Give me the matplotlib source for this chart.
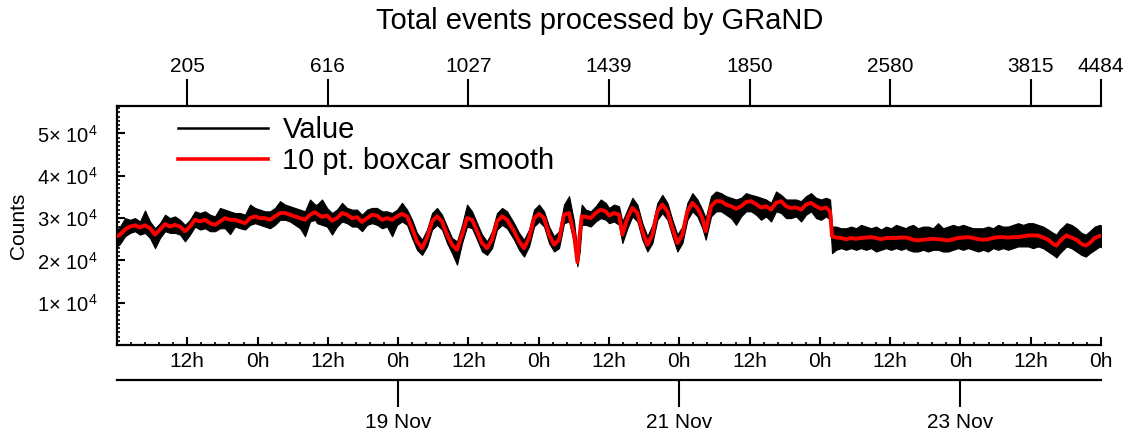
import numpy as np
import matplotlib
matplotlib.use("Agg")
import matplotlib.pyplot as plt
from matplotlib.lines import Line2D
from matplotlib.ticker import FixedLocator, MultipleLocator, NullLocator

plt.rcParams['font.family'] = ['Liberation Sans', 'DejaVu Sans']
plt.rcParams['mathtext.fontset'] = 'custom'
plt.rcParams['mathtext.rm'] = 'Liberation Sans'
plt.rcParams['mathtext.it'] = 'Liberation Sans:italic'
plt.rcParams['mathtext.bf'] = 'Liberation Sans:bold'

# ---------------- data (time in hours since 17 Nov 00:00, counts in units of 1e4) -------------
hours = [
    0.0, 0.51, 1.37, 2.22, 3.07, 3.93, 4.78, 5.63, 6.49, 7.34, 8.20, 9.05, 9.90, 10.76, 11.61,
    12.46, 13.32, 14.17, 15.03, 15.88, 16.73, 17.59, 18.44, 19.29, 20.15, 21.00, 21.86, 22.71,
    23.56, 24.42, 25.27, 26.12, 26.98, 27.83, 28.69, 29.54, 30.39, 31.25, 32.10, 32.95, 33.81,
    34.15, 35.00, 35.86, 36.71, 37.56, 38.42, 39.27, 40.13, 40.98, 41.83, 42.69, 43.54, 44.39,
    45.25, 46.10, 46.96, 47.81, 48.66, 49.52, 50.37, 51.22, 52.08, 52.93, 53.79, 54.64, 55.49,
    56.35, 57.20, 58.05, 58.91, 59.76, 60.62, 61.47, 62.32, 63.18, 64.03, 64.88, 65.74, 66.59,
    67.79, 68.64, 69.49, 70.35, 71.20, 72.06, 72.91, 73.76, 74.62, 75.47, 76.32, 77.18, 78.03,
    78.60, 79.00, 79.34, 80.03, 80.88, 81.73, 82.59, 83.44, 84.01, 84.86, 85.71, 86.28, 87.14,
    87.99, 88.84, 89.70, 90.55, 91.41, 92.26, 93.11, 93.97, 94.82, 95.67, 96.53, 97.38, 98.24,
    99.09, 99.94, 100.51,
    101.42, 102.28, 103.13, 103.98, 104.84, 105.69, 106.55, 107.40, 108.25, 109.11, 109.96,
    110.81, 111.67, 112.52, 113.38, 114.23, 115.08, 115.94, 116.79, 117.64, 118.50, 119.35,
    120.21, 121.06, 121.74, 122.08, 122.77, 123.62, 124.47, 125.33, 126.18, 127.03, 127.89,
    128.74, 129.60, 130.45, 131.30, 132.16, 133.01, 133.86, 134.72,
    135.06, 135.91, 136.76, 137.62, 138.47, 139.33, 140.18, 141.03, 141.89, 142.74, 143.60,
    144.45, 145.30, 146.16, 147.01, 147.87, 148.72, 149.57, 150.43, 151.28, 152.13, 152.99,
    153.84, 154.70, 155.55, 156.40, 157.26, 158.11, 158.96, 159.82, 160.39, 160.96, 161.53,
    162.10, 162.95, 163.81, 164.66, 165.40, 166.08, 166.94, 167.79, 168.36,
]

smooth_e4 = [
    2.57, 2.61, 2.73, 2.80, 2.83, 2.78, 2.83, 2.76, 2.61, 2.73, 2.86, 2.80, 2.84, 2.80, 2.69,
    2.80, 2.96, 2.92, 2.96, 2.88, 2.84, 2.92, 3.00, 2.96, 2.96, 2.92, 2.88, 3.00, 3.04, 3.00,
    3.00, 2.96, 3.04, 3.12, 3.12, 3.08, 3.04, 3.00, 2.96, 3.08, 3.14,
    3.10, 3.03, 3.06, 2.94, 3.00, 3.12, 3.08, 3.00, 3.02, 2.91, 3.00, 3.08, 3.06, 2.96, 3.00,
    2.96, 3.04, 3.10, 3.04, 2.76, 2.45, 2.29, 2.53, 2.92, 3.04, 2.92, 2.61, 2.37, 2.25, 2.61,
    3.00, 2.96, 2.69, 2.41, 2.29, 2.49, 2.92, 3.04, 2.96,
    2.69, 2.45, 2.29, 2.53, 3.00, 3.10, 3.00, 2.61, 2.37, 2.49, 3.08, 3.12, 2.61, 1.96, 2.61,
    3.04, 3.03, 3.00, 3.12, 3.20, 3.16, 3.06, 3.12, 3.08, 2.61, 3.00, 3.24, 3.12, 2.69, 2.37,
    2.61, 3.16, 3.32, 3.16, 2.76, 2.41, 2.61, 3.16, 3.36, 3.24, 3.00, 2.69,
    3.28, 3.40, 3.40, 3.32, 3.28, 3.22, 3.28, 3.38, 3.40, 3.33, 3.25, 3.28, 3.20, 3.36, 3.40,
    3.28, 3.24, 3.25, 3.20, 3.32, 3.36, 3.28, 3.22, 3.25, 3.16, 2.57, 2.54, 2.53, 2.50, 2.53,
    2.51, 2.53, 2.54, 2.55, 2.53, 2.50, 2.53, 2.53, 2.53, 2.54, 2.54,
    2.53, 2.49, 2.47, 2.49, 2.50, 2.51, 2.50, 2.49, 2.47, 2.50, 2.53, 2.54, 2.55, 2.53, 2.50,
    2.49, 2.50, 2.53, 2.55, 2.55, 2.54, 2.55, 2.55, 2.57, 2.59, 2.59, 2.59, 2.54, 2.49, 2.39,
    2.35, 2.45, 2.53, 2.59, 2.54, 2.49, 2.39, 2.35, 2.41, 2.53, 2.58, 2.57,
]

upper_e4 = [
    2.72, 2.80, 3.00, 2.96, 3.00, 2.92, 3.18, 2.92, 2.76, 2.88, 3.08, 3.00, 3.04, 2.96, 2.84,
    2.96, 3.16, 3.12, 3.16, 3.08, 3.04, 3.24, 3.20, 3.16, 3.12, 3.12, 3.08, 3.32, 3.24, 3.20,
    3.16, 3.16, 3.24, 3.40, 3.32, 3.28, 3.24, 3.20, 3.16, 3.44, 3.32,
    3.32, 3.44, 3.24, 3.12, 3.20, 3.36, 3.24, 3.20, 3.20, 3.08, 3.20, 3.24, 3.24, 3.16, 3.16,
    3.12, 3.20, 3.36, 3.20, 2.96, 2.65, 2.49, 2.73, 3.12, 3.24, 3.08, 2.80, 2.53, 2.45, 2.84,
    3.32, 3.16, 2.88, 2.61, 2.45, 2.69, 3.12, 3.24, 3.16,
    2.88, 2.65, 2.49, 2.73, 3.20, 3.32, 3.16, 2.80, 2.57, 2.69, 3.32, 3.52, 2.92, 2.21, 2.92,
    3.32, 3.20, 3.16, 3.28, 3.44, 3.36, 3.24, 3.32, 3.28, 2.92, 3.20, 3.48, 3.32, 2.88, 2.57,
    2.84, 3.36, 3.55, 3.36, 2.96, 2.61, 2.80, 3.36, 3.59, 3.44, 3.20, 3.00,
    3.52, 3.63, 3.59, 3.52, 3.48, 3.44, 3.48, 3.59, 3.55, 3.52, 3.48, 3.44, 3.36, 3.63, 3.55,
    3.44, 3.44, 3.44, 3.40, 3.52, 3.59, 3.48, 3.44, 3.48, 3.44, 2.80, 2.80, 2.76, 2.76, 2.80,
    2.76, 2.84, 2.80, 2.76, 2.80, 2.73, 2.80, 2.76, 2.84, 2.80, 2.76,
    2.80, 2.84, 2.76, 2.80, 2.80, 2.76, 2.88, 2.76, 2.80, 2.84, 2.80, 2.84, 2.80, 2.76, 2.76,
    2.76, 2.80, 2.76, 2.84, 2.80, 2.80, 2.84, 2.88, 2.84, 2.88, 2.88, 2.84, 2.80, 2.73, 2.65,
    2.61, 2.73, 2.80, 2.88, 2.84, 2.76, 2.65, 2.61, 2.69, 2.80, 2.84, 2.80,
]

lower_e4 = [
    2.33, 2.39, 2.57, 2.65, 2.69, 2.61, 2.65, 2.53, 2.29, 2.53, 2.69, 2.65, 2.65, 2.61, 2.45,
    2.61, 2.80, 2.73, 2.76, 2.69, 2.69, 2.76, 2.76, 2.62, 2.80, 2.76, 2.73, 2.84, 2.88, 2.84,
    2.80, 2.76, 2.84, 2.96, 2.96, 2.92, 2.84, 2.76, 2.57, 2.92, 2.96,
    2.88, 2.84, 2.80, 2.61, 2.80, 2.92, 2.88, 2.80, 2.80, 2.69, 2.84, 2.88, 2.84, 2.76, 2.80,
    2.57, 2.84, 2.92, 2.84, 2.53, 2.25, 2.13, 2.33, 2.73, 2.84, 2.73, 2.41, 2.17, 1.90, 2.41,
    2.80, 2.76, 2.49, 2.21, 2.13, 2.29, 2.73, 2.84, 2.76,
    2.49, 2.25, 2.09, 2.33, 2.80, 2.92, 2.80, 2.41, 2.21, 2.29, 2.88, 2.92, 2.41, 1.86, 2.21,
    2.84, 2.84, 2.80, 2.92, 3.00, 2.96, 2.88, 2.92, 2.84, 2.41, 2.76, 3.04, 2.92, 2.49, 2.21,
    2.41, 2.96, 3.12, 2.96, 2.57, 2.21, 2.41, 2.96, 3.16, 3.04, 2.76, 2.49,
    3.04, 3.16, 3.16, 3.08, 3.00, 2.84, 3.04, 3.16, 3.16, 3.08, 2.96, 3.04, 2.92, 3.16, 3.12,
    3.00, 3.00, 3.04, 2.92, 3.08, 3.16, 3.00, 2.96, 3.04, 2.96, 2.17, 2.25, 2.29, 2.25, 2.29,
    2.25, 2.29, 2.25, 2.29, 2.21, 2.25, 2.29, 2.25, 2.29, 2.25, 2.29,
    2.25, 2.21, 2.21, 2.25, 2.21, 2.25, 2.25, 2.21, 2.21, 2.25, 2.29, 2.25, 2.29, 2.25, 2.21,
    2.25, 2.21, 2.29, 2.25, 2.29, 2.25, 2.29, 2.33, 2.33, 2.33, 2.29, 2.33, 2.29, 2.21, 2.13,
    2.07, 2.17, 2.25, 2.33, 2.29, 2.21, 2.13, 2.09, 2.17, 2.25, 2.33, 2.29,
]

time_tick_hours = [12, 24, 36, 48, 60, 72, 84, 96, 108, 120, 132, 144, 156, 168]
time_tick_labels = ['12h', '0h'] * 7
day_tick_hours = [48, 96, 144]
day_tick_labels = ['19 Nov', '21 Nov', '23 Nov']
event_tick_hours = [12, 36, 60, 84, 108, 132, 156, 168]
event_tick_labels = ['205', '616', '1027', '1439', '1850', '2580', '3815', '4484']
y_tick_values = [1e4, 2e4, 3e4, 4e4, 5e4]
y_tick_labels = [r'$1{\times}\ 10^{4}$', r'$2{\times}\ 10^{4}$', r'$3{\times}\ 10^{4}$',
                 r'$4{\times}\ 10^{4}$', r'$5{\times}\ 10^{4}$']

title = 'Total events processed by GRaND'
legend_labels = ['Value', '10 pt. boxcar smooth']

# ---------------- figure ----------------
W, H = 1137, 441
fig = plt.figure(figsize=(W / 100, H / 100), dpi=100)
ax_l, ax_r, ax_t, ax_b = 117, 1101, 106, 345
ax = fig.add_axes([ax_l / W, 1 - ax_b / H, (ax_r - ax_l) / W, (ax_b - ax_t) / H])

scale = 1e4
h = np.array(hours)
ax.fill_between(h, np.array(lower_e4) * scale, np.array(upper_e4) * scale,
                facecolor='black', edgecolor='black', linewidth=0.8, zorder=2)
ax.plot(h, np.array(smooth_e4) * scale, color='#ff0000', lw=2.8, zorder=3,
        solid_joinstyle='round', solid_capstyle='round')

ax.set_xlim(0, 168)
ax.set_ylim(0, 5.65e4)

for s in ['top', 'right']:
    ax.spines[s].set_visible(False)
for s in ['left', 'bottom']:
    ax.spines[s].set_linewidth(1.6)

ax.xaxis.set_major_locator(FixedLocator(time_tick_hours))
ax.set_xticklabels(time_tick_labels)
ax.xaxis.set_minor_locator(MultipleLocator(2.4))
ax.yaxis.set_major_locator(FixedLocator(y_tick_values))
ax.set_yticklabels(y_tick_labels)
ax.yaxis.set_minor_locator(MultipleLocator(1000))

ax.tick_params(axis='x', which='major', direction='in', length=5.5, width=1.5,
               labelsize=15, pad=5)
ax.tick_params(axis='x', which='minor', direction='in', length=2.5, width=1.2)
ax.tick_params(axis='y', which='major', direction='in', length=5.5, width=1.5,
               labelsize=14.5, pad=14)
ax.tick_params(axis='y', which='minor', direction='in', length=2.5, width=1.2)

ax.set_ylabel('Counts', fontsize=15)
ax.yaxis.set_label_coords((28 - ax_l) / (ax_r - ax_l), 0.5)

# top axis: event numbers
top = ax.secondary_xaxis('top')
top.xaxis.set_major_locator(FixedLocator(event_tick_hours))
top.set_xticklabels(event_tick_labels)
top.xaxis.set_minor_locator(NullLocator())
top.tick_params(axis='x', direction='out', length=19.5, width=1.5, labelsize=15, pad=2)
top.spines['top'].set_linewidth(1.6)

# second bottom axis: dates
bot = ax.secondary_xaxis((ax_b - 380) / (ax_b - ax_t))
bot.xaxis.set_major_locator(FixedLocator(day_tick_hours))
bot.set_xticklabels(day_tick_labels)
bot.xaxis.set_minor_locator(NullLocator())
bot.tick_params(axis='x', direction='out', length=19.5, width=1.5, labelsize=15, pad=4)
bot.spines['bottom'].set_linewidth(1.6)

# legend
handles = [Line2D([], [], color='black', lw=1.8), Line2D([], [], color='#ff0000', lw=2.6)]
fig.legend(handles, legend_labels, loc='upper left',
           bbox_to_anchor=(178 / W, 1 - 116 / H), frameon=False, fontsize=21,
           handlelength=3.08, handletextpad=0.5, labelspacing=0.12,
           borderpad=0, borderaxespad=0)

fig.text(600 / W, 1 - 21 / H, title, fontsize=21, ha='center', va='center')

fig.savefig('out.png', dpi=100)
